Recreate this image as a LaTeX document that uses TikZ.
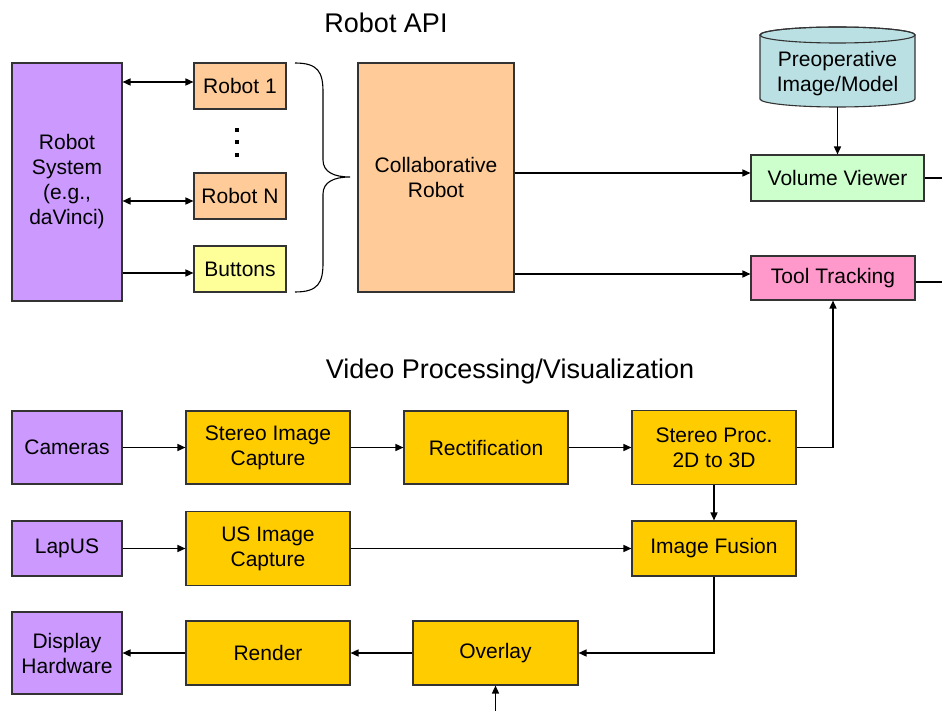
\documentclass[tikz,border=0pt]{standalone}
\usepackage{fontspec}
\setsansfont{Liberation Sans}
\usetikzlibrary{arrows.meta,positioning}
\definecolor{HostFill}{HTML}{CC99FF}
\definecolor{ApiFill}{HTML}{FFCC99}
\definecolor{ButtonFill}{HTML}{FFFF99}
\definecolor{VideoFill}{HTML}{FFCC00}
\definecolor{ViewerFill}{HTML}{CCFFCC}
\definecolor{TrackFill}{HTML}{FF99CC}
\definecolor{StoreFill}{HTML}{BBE0E4}
\definecolor{BoxInk}{gray}{0.2}
\tikzset{
  figure/.style={x=1pt,y=-1pt,font=\sffamily\fontsize{21}{25}\selectfont,>={Triangle[length=8pt,width=7pt]}},
  block/.style={draw=BoxInk,line width=1.1pt,align=center,inner sep=0pt},
  heading/.style={font=\sffamily\fontsize{27}{30}\selectfont,inner sep=0pt},
  flow/.style={->,line width=1.5pt},
  biflow/.style={<->,line width=1.5pt},
  wire/.style={line width=1.5pt},
}

\begin{document}
\begin{tikzpicture}[figure]
  \useasboundingbox (0,0) rectangle (942,711);

  % robot side
  \node[heading] (apititle) at (386,23) {Robot API};
  \node[block,fill=HostFill,minimum width=110pt,minimum height=238pt] (robsys) at (67,182)
    {Robot\\System\\(e.g.,\\daVinci)};
  \node[block,fill=ApiFill,minimum width=92pt,minimum height=46pt] (robot1) at (240,86) {Robot 1};
  \node[block,fill=ApiFill,minimum width=92pt,minimum height=46pt] (robotn) at (240,196) {Robot N};
  \node[block,fill=ButtonFill,minimum width=92pt,minimum height=46pt] (buttons) at (240,269) {Buttons};
  \foreach \y in {130,142.5,155}
    \fill (235,\y-2) rectangle ++(4,4);
  \node[block,fill=ApiFill,minimum width=156pt,minimum height=229pt] (collab) at (436,177.5)
    {Collaborative\\Robot};

  % brace over the robot interfaces
  \draw[line width=1.1pt] (295,63) .. controls (318,63) and (323,72) .. (323,92) -- (323,160)
    .. controls (323,172) and (334,177) .. (350,177)
    .. controls (334,177) and (323,182) .. (323,194) -- (323,263)
    .. controls (323,283) and (318,292) .. (295,292);

  \draw[biflow] ([yshift=4pt]robot1.west -| robsys.east) -- ([yshift=4pt]robot1.west);
  \draw[biflow] ([yshift=-5pt]robotn.west -| robsys.east) -- ([yshift=-5pt]robotn.west);
  \draw[flow] ([yshift=-4pt]buttons.west -| robsys.east) -- ([yshift=-4pt]buttons.west);

  % preoperative data store
  \filldraw[fill=StoreFill,draw=BoxInk,line width=1.1pt] (760,35) -- (760,99)
    arc[start angle=180,end angle=0,x radius=77.5,y radius=8] -- (915,35)
    arc[start angle=0,end angle=-180,x radius=77.5,y radius=8] -- cycle;
  \draw[draw=BoxInk,line width=1.1pt] (837.5,35) ellipse[x radius=77.5,y radius=8];
  \node[align=center,inner sep=0pt] (preop) at (837.5,74) {Preoperative\\Image/Model};
  \coordinate (preopbase) at (837.5,107);

  \node[block,fill=ViewerFill,minimum width=173pt,minimum height=46pt] (volview) at (837.5,178)
    {Volume Viewer};
  \node[block,fill=TrackFill,minimum width=164pt,minimum height=44pt] (tooltrack) at (833,278)
    {Tool Tracking};
  \coordinate (volout) at (942,178);
  \coordinate (trackout) at (942,282);

  \draw[flow] (preopbase) -- (volview.north);
  \draw[flow] ([yshift=5pt]volview.west -| collab.east) -- ([yshift=5pt]volview.west);
  \draw[flow] ([yshift=4pt]tooltrack.west -| collab.east) -- ([yshift=4pt]tooltrack.west);
  \draw[wire] (volview.east) -- (volout);
  \draw[wire] (trackout -| tooltrack.east) -- (trackout);

  % video side
  \node[heading] (videotitle) at (510,372) {Video Processing/Visualization};
  \node[block,fill=HostFill,minimum width=110pt,minimum height=73pt] (cameras) at (67,447.5) {Cameras};
  \node[block,fill=VideoFill,minimum width=164pt,minimum height=73pt] (stereocap) at (268,447.5)
    {Stereo Image\\Capture};
  \node[block,fill=VideoFill,minimum width=164pt,minimum height=73pt] (rectif) at (486,447.5)
    {Rectification};
  \node[block,fill=VideoFill,minimum width=164pt,minimum height=74pt] (stereoproc) at (714,447.5)
    {Stereo Proc.\\2D to 3D};

  \node[block,fill=HostFill,minimum width=110pt,minimum height=55pt] (lapus) at (67,548.5) {LapUS};
  \node[block,fill=VideoFill,minimum width=164pt,minimum height=74pt] (uscap) at (268,548.5)
    {US Image\\Capture};
  \node[block,fill=VideoFill,minimum width=164pt,minimum height=55pt] (fusion) at (714,548.5)
    {Image Fusion};

  \node[block,fill=HostFill,minimum width=110pt,minimum height=82pt] (display) at (67,653)
    {Display\\Hardware};
  \node[block,fill=VideoFill,minimum width=164pt,minimum height=64pt] (render) at (268,653) {Render};
  \node[block,fill=VideoFill,minimum width=165pt,minimum height=64pt] (overlay) at (495.5,653) {Overlay};
  \coordinate (overlayin) at (495.5,711);

  \draw[flow] (cameras) -- (stereocap);
  \draw[flow] (stereocap) -- (rectif);
  \draw[flow] (rectif) -- (stereoproc);
  \draw[flow] (stereoproc.east) -| (tooltrack.south);
  \draw[flow] (stereoproc) -- (fusion);
  \draw[flow] (lapus) -- (uscap);
  \draw[flow] (uscap) -- (fusion);
  \draw[flow] (fusion.south) |- (overlay.east);
  \draw[flow] (overlayin) -- (overlay.south);
  \draw[flow] (overlay) -- (render);
  \draw[flow] (render) -- (display);
\end{tikzpicture}
\end{document}
